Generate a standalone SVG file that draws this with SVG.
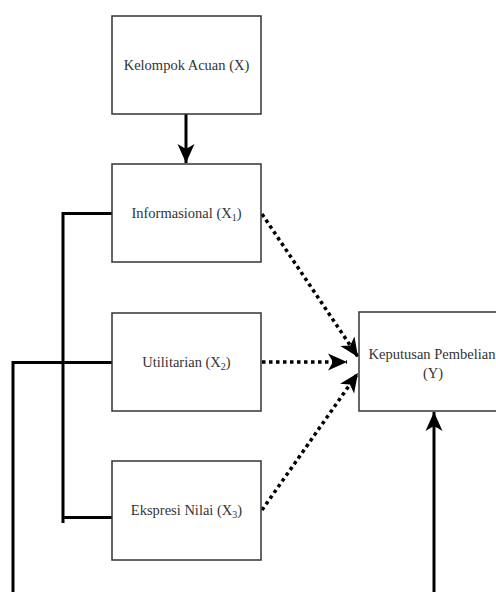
<svg xmlns="http://www.w3.org/2000/svg" width="496" height="592" viewBox="0 0 496 592">
<style>
.box{fill:#fff;stroke:#333;stroke-width:1.5}
.t{font-family:"Liberation Serif","Times New Roman",serif;font-size:14.5px;fill:#333;text-anchor:middle}
.solid{fill:none;stroke:#000;stroke-width:3}
.dot{fill:none;stroke:#000;stroke-width:3.5;stroke-dasharray:3.5 3.5}
</style>
<defs>
<marker id="arr" markerUnits="userSpaceOnUse" markerWidth="22" markerHeight="20" viewBox="-20 -10 22 20" refX="0" refY="0" orient="auto">
<path d="M0,0 L-19,-8.5 L-14,0 L-19,8.5 Z" fill="#000"/>
</marker>
</defs>
<rect width="496" height="592" fill="#fff"/>
<g id="connectors">
<line class="solid" x1="186" y1="114" x2="186" y2="163" marker-end="url(#arr)"/>
<polyline class="solid" points="112,213.5 63,213.5 63,523"/>
<line class="solid" x1="63" y1="517.5" x2="112" y2="517.5"/>
<polyline class="solid" points="112,362.5 13,362.5 13,600"/>
<line class="solid" x1="434" y1="600" x2="434" y2="412" marker-end="url(#arr)"/>
<line class="dot" x1="262" y1="214" x2="358" y2="357" marker-end="url(#arr)"/>
<line class="dot" x1="262" y1="362" x2="347" y2="362" marker-end="url(#arr)"/>
<line class="dot" x1="262" y1="510" x2="358" y2="373" marker-end="url(#arr)"/>
</g>
<g id="node-x">
<rect class="box" x="112" y="16" width="149" height="98"/>
<text class="t" x="186.5" y="70">Kelompok Acuan (X)</text>
</g>
<g id="node-x1">
<rect class="box" x="112" y="164" width="149" height="98"/>
<text class="t" x="186.5" y="218">Informasional (X<tspan font-size="10" dy="3">1</tspan><tspan dy="-3">)</tspan></text>
</g>
<g id="node-x2">
<rect class="box" x="112" y="313" width="149" height="98"/>
<text class="t" x="186.5" y="367">Utilitarian (X<tspan font-size="10" dy="3">2</tspan><tspan dy="-3">)</tspan></text>
</g>
<g id="node-x3">
<rect class="box" x="112" y="461" width="149" height="99"/>
<text class="t" x="186.5" y="515">Ekspresi Nilai (X<tspan font-size="10" dy="3">3</tspan><tspan dy="-3">)</tspan></text>
</g>
<g id="node-y">
<rect class="box" x="359" y="312" width="150" height="99"/>
<text class="t" x="432" y="359">Keputusan Pembelian</text>
<text class="t" x="433" y="378">(Y)</text>
</g>
</svg>
